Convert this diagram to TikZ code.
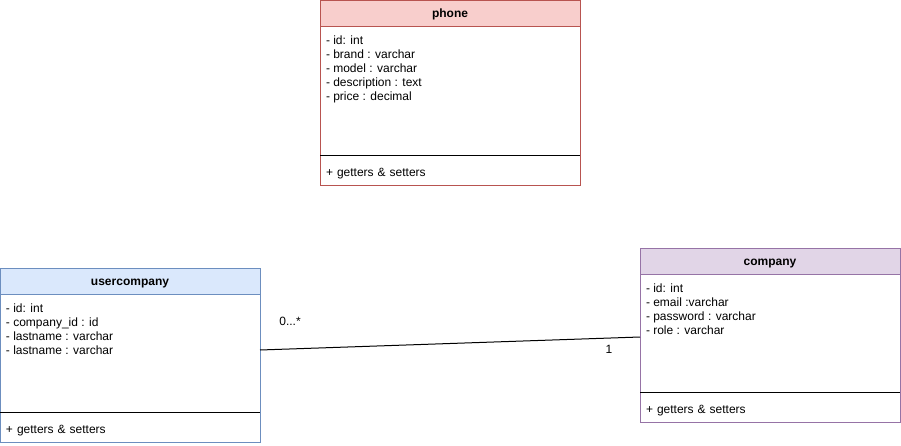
\documentclass[tikz,border=0pt]{standalone}
\usepackage{fontspec}
\setmainfont{Liberation Sans}
\usetikzlibrary{positioning}
\definecolor{phFill}{HTML}{F8CECC}
\definecolor{phLine}{HTML}{B85450}
\definecolor{ucFill}{HTML}{DAE8FC}
\definecolor{ucLine}{HTML}{6C8EBF}
\definecolor{coFill}{HTML}{E1D5E7}
\definecolor{coLine}{HTML}{9673A6}
\tikzset{
    base/.style={font=\fontsize{9}{10.5}\selectfont, inner sep=0pt, outer sep=0pt},
    classhead/.style={base, rectangle, draw, line width=0.75pt, minimum width=195pt,
                      minimum height=19.5pt, text height=7pt, text depth=1pt,
                      font=\fontsize{9}{10.5}\selectfont\bfseries},
    classbody/.style={base, rectangle, draw, fill=white, line width=0.75pt, minimum width=195pt},
    classfoot/.style={base, rectangle, draw, fill=white, line width=0.75pt, text width=186pt,
                      inner xsep=4.5pt, minimum height=22.5pt, text height=9.5pt,
                      text depth=0.5pt, align=left},
    members/.style={base, anchor=north west, align=left},
    divider/.style={line width=0.75pt, black},
    assoc/.style={line width=0.75pt, black},
    mult/.style={base, text height=7pt, text depth=1pt}
}
\begin{document}
\begin{tikzpicture}[x=0.75pt, y=-0.75pt]
  \useasboundingbox (0,0) rectangle (901,446);

  % phone
  \node[classhead, draw=phLine, fill=phFill] (phhead) at (450,13) {phone};
  \node[classbody, draw=phLine, minimum height=96.75pt, below=0pt of phhead] (phbody) {};
  \node[classfoot, draw=phLine, below=0pt of phbody] (phfoot) {+ getters \& setters};
  \draw[divider] (phbody.south west) -- (phbody.south east);
  \node[members] (phattr) at ([xshift=4.5pt, yshift=-7.5pt]phbody.north west)
    {- id: int\\- brand : varchar\\- model : varchar\\- description : text\\- price : decimal};

  % usercompany
  \node[classhead, draw=ucLine, fill=ucFill] (uchead) at (130,281) {usercompany};
  \node[classbody, draw=ucLine, minimum height=88.5pt, below=0pt of uchead] (ucbody) {};
  \node[classfoot, draw=ucLine, below=0pt of ucbody] (ucfoot) {+ getters \& setters};
  \draw[divider] (ucbody.south west) -- (ucbody.south east);
  \node[members] (ucattr) at ([xshift=4.5pt, yshift=-7.5pt]ucbody.north west)
    {- id: int\\- company\_id : id\\- lastname : varchar\\- lastname : varchar};

  % company
  \node[classhead, draw=coLine, fill=coFill] (cohead) at (770,261) {company};
  \node[classbody, draw=coLine, minimum height=88.5pt, below=0pt of cohead] (cobody) {};
  \node[classfoot, draw=coLine, below=0pt of cobody] (cofoot) {+ getters \& setters};
  \draw[divider] (cobody.south west) -- (cobody.south east);
  \node[members] (coattr) at ([xshift=4.5pt, yshift=-7.5pt]cobody.north west)
    {- id: int\\- email :varchar\\- password : varchar\\- role : varchar};

  % association
  \draw[assoc] ([yshift=2.25pt]ucbody.east) -- ([yshift=-3pt]cobody.west);
  \node[mult] (ucmult) at (290,321) {0...*};
  \node[mult] (comult) at (609,349) {1};
\end{tikzpicture}
\end{document}
